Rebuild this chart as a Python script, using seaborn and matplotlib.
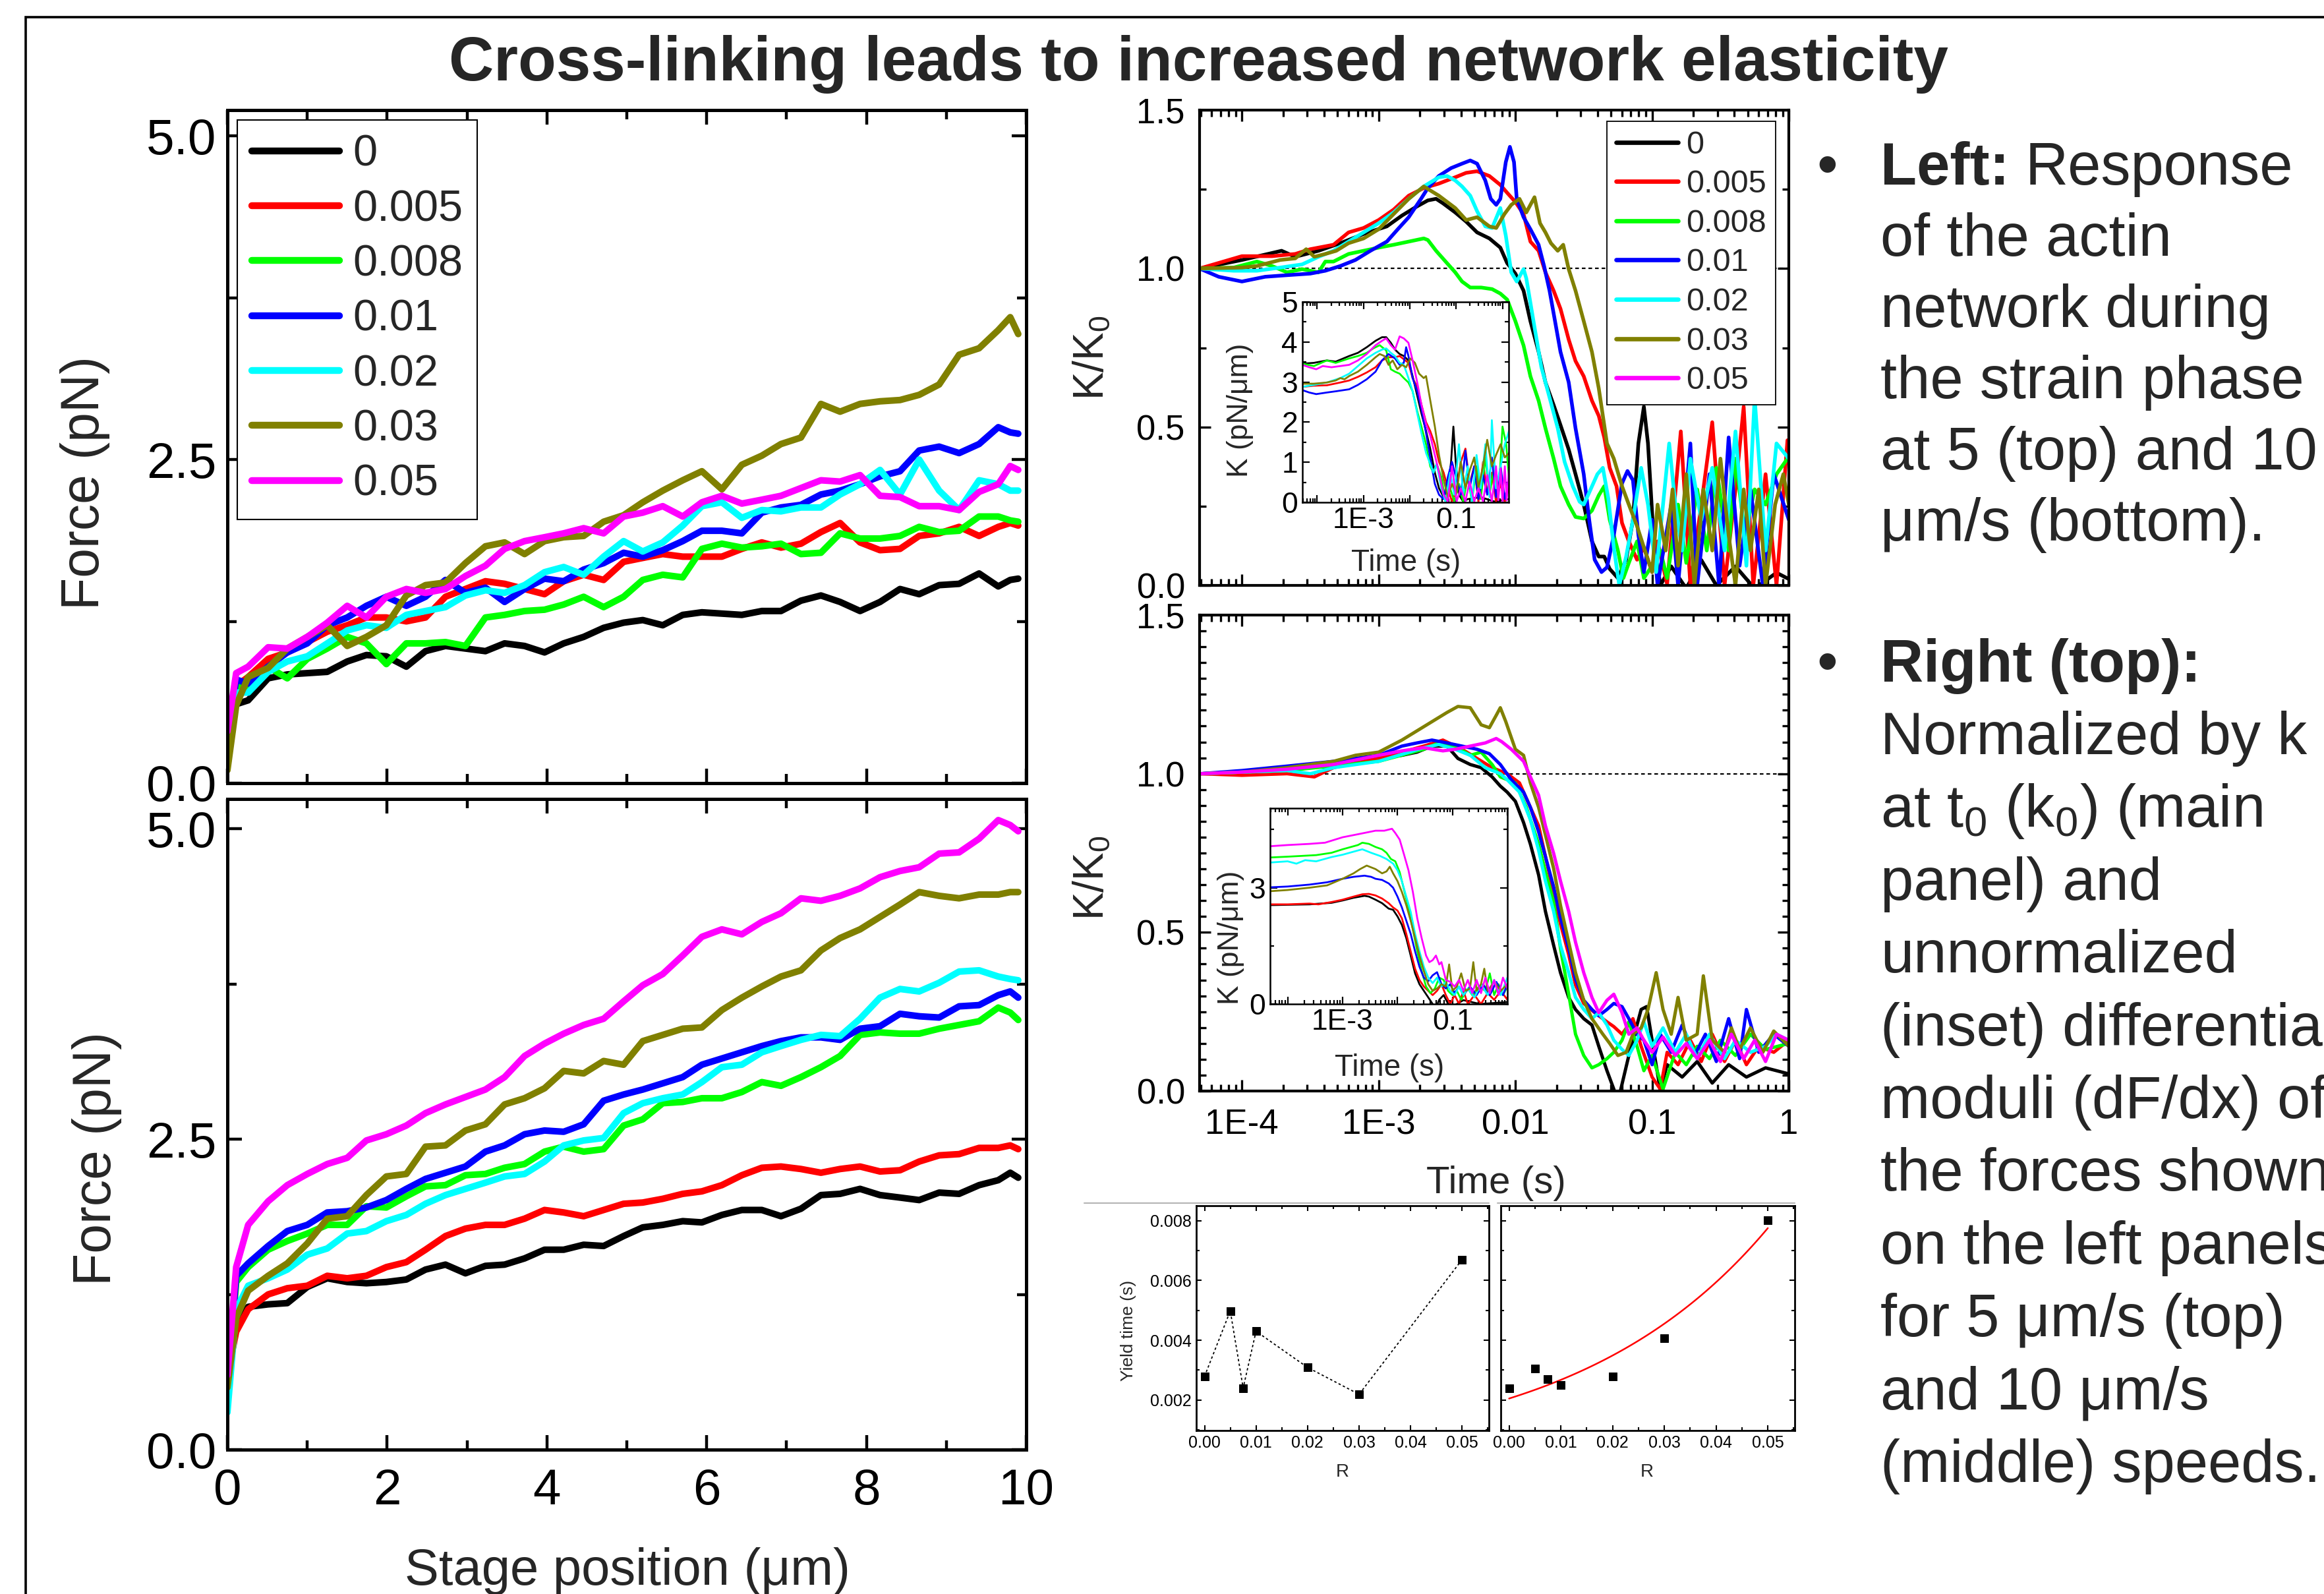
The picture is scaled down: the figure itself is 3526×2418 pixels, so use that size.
import numpy as np
import pandas as pd
import matplotlib
matplotlib.use("Agg")
import matplotlib.pyplot as plt
from matplotlib import font_manager
from matplotlib.lines import Line2D
from matplotlib.patches import Rectangle
from matplotlib.ticker import (FixedLocator, FuncFormatter, MultipleLocator,
                               LogLocator, NullFormatter)
import seaborn as sns

# ------------------------------------------------------------------ data
R_LEVELS = ["0", "0.005", "0.008", "0.01", "0.02", "0.03", "0.05"]
COLORS = ["#000000", "#ff0000", "#00ff00", "#0000ff", "#00ffff", "#808000", "#ff00ff"]

# stage position (um) shared by all force traces
STAGE_POS = [0.0, 0.11, 0.26, 0.51, 0.75, 1.0, 1.25, 1.50, 1.74, 1.99, 2.24, 2.48,
             2.73, 2.98, 3.23, 3.47, 3.72, 3.97, 4.21, 4.46, 4.71, 4.96, 5.20, 5.45,
             5.70, 5.94, 6.19, 6.44, 6.69, 6.93, 7.18, 7.43, 7.67, 7.92, 8.17, 8.42,
             8.66, 8.91, 9.16, 9.41, 9.65, 9.80, 9.90]

# force (pN) at 5 um/s
F5_R0 = [0.45, 0.61, 0.64, 0.81, 0.84, 0.85, 0.86, 0.94, 0.99, 0.98, 0.90, 1.02, 1.06, 1.04, 1.02,
         1.08, 1.06, 1.01, 1.08, 1.13, 1.20, 1.24, 1.26, 1.22, 1.30, 1.32, 1.31, 1.30, 1.33, 1.33,
         1.41, 1.45, 1.40, 1.33, 1.40, 1.50, 1.46, 1.53, 1.54, 1.62, 1.52, 1.57, 1.58]
F5_R005 = [0.4, 0.75, 0.82, 0.96, 1.01, 1.09, 1.17, 1.22, 1.28, 1.28, 1.25, 1.28, 1.44, 1.50, 1.56,
           1.54, 1.50, 1.46, 1.56, 1.61, 1.57, 1.71, 1.74, 1.77, 1.75, 1.75, 1.75, 1.81, 1.86, 1.82,
           1.85, 1.94, 2.01, 1.86, 1.80, 1.81, 1.91, 1.93, 1.98, 1.91, 1.98, 2.01, 1.99]
F5_R008 = [0.3, 0.75, 0.74, 0.90, 0.81, 0.96, 1.04, 1.13, 1.08, 0.92, 1.08, 1.08, 1.09, 1.06, 1.28,
           1.30, 1.33, 1.34, 1.38, 1.44, 1.36, 1.44, 1.57, 1.61, 1.59, 1.81, 1.85, 1.82, 1.83, 1.85,
           1.77, 1.78, 1.93, 1.89, 1.89, 1.91, 1.98, 1.94, 1.95, 2.06, 2.06, 2.03, 2.02]
F5_R01 = [0.35, 0.8, 0.77, 0.90, 1.01, 1.08, 1.22, 1.28, 1.37, 1.44, 1.37, 1.44, 1.57, 1.47, 1.51,
          1.40, 1.50, 1.58, 1.56, 1.65, 1.70, 1.78, 1.75, 1.80, 1.87, 1.95, 1.95, 1.93, 2.09, 2.13,
          2.15, 2.23, 2.26, 2.31, 2.37, 2.41, 2.57, 2.60, 2.55, 2.62, 2.75, 2.71, 2.70]
F5_R02 = [0.3, 0.7, 0.70, 0.86, 0.94, 0.98, 1.08, 1.18, 1.22, 1.20, 1.30, 1.33, 1.36, 1.45, 1.49,
          1.47, 1.53, 1.63, 1.67, 1.61, 1.75, 1.87, 1.79, 1.86, 1.99, 2.14, 2.17, 2.05, 2.11, 2.10,
          2.13, 2.13, 2.23, 2.31, 2.42, 2.23, 2.50, 2.26, 2.11, 2.34, 2.31, 2.26, 2.26]
F5_R03 = [0.1, 0.6, 0.82, 0.89, 1.04, 1.13, 1.22, 1.06, 1.13, 1.22, 1.45, 1.53, 1.55, 1.70, 1.83,
          1.86, 1.77, 1.87, 1.90, 1.91, 2.02, 2.07, 2.17, 2.26, 2.34, 2.41, 2.27, 2.46, 2.53, 2.62,
          2.67, 2.93, 2.87, 2.93, 2.95, 2.96, 3.00, 3.08, 3.31, 3.36, 3.50, 3.60, 3.47]
F5_R05 = [0.4, 0.85, 0.90, 1.05, 1.04, 1.13, 1.24, 1.37, 1.28, 1.44, 1.50, 1.47, 1.50, 1.60, 1.68,
          1.81, 1.87, 1.90, 1.93, 1.97, 1.93, 2.06, 2.09, 2.14, 2.06, 2.17, 2.22, 2.16, 2.19, 2.22,
          2.28, 2.34, 2.33, 2.38, 2.22, 2.21, 2.14, 2.14, 2.11, 2.25, 2.31, 2.45, 2.42]

# force (pN) at 10 um/s
F10_R0 = [0.55, 1.0, 1.15, 1.17, 1.18, 1.31, 1.38, 1.35, 1.34, 1.35, 1.37, 1.45, 1.49, 1.42, 1.48,
          1.49, 1.54, 1.61, 1.61, 1.65, 1.64, 1.72, 1.79, 1.81, 1.84, 1.83, 1.89, 1.93, 1.93, 1.88,
          1.94, 2.05, 2.06, 2.10, 2.05, 2.03, 2.01, 2.07, 2.06, 2.13, 2.17, 2.23, 2.19]
F10_R005 = [0.6, 0.95, 1.13, 1.25, 1.30, 1.32, 1.40, 1.38, 1.40, 1.47, 1.51, 1.61, 1.72, 1.78, 1.81,
            1.81, 1.86, 1.93, 1.91, 1.88, 1.93, 1.98, 1.99, 2.02, 2.06, 2.08, 2.13, 2.21, 2.27, 2.28,
            2.26, 2.23, 2.26, 2.28, 2.24, 2.25, 2.32, 2.37, 2.38, 2.43, 2.43, 2.45, 2.42]
F10_R008 = [0.45, 1.35, 1.47, 1.61, 1.68, 1.74, 1.81, 1.81, 1.96, 1.95, 2.04, 2.12, 2.13, 2.21, 2.22,
            2.27, 2.30, 2.40, 2.44, 2.40, 2.42, 2.61, 2.66, 2.79, 2.80, 2.83, 2.83, 2.88, 2.96, 2.93,
            3.00, 3.08, 3.17, 3.34, 3.36, 3.35, 3.35, 3.39, 3.42, 3.45, 3.56, 3.52, 3.46]
F10_R01 = [0.5, 1.40, 1.50, 1.64, 1.76, 1.81, 1.91, 1.92, 1.95, 2.01, 2.10, 2.18, 2.23, 2.28, 2.40,
           2.45, 2.54, 2.57, 2.56, 2.62, 2.81, 2.86, 2.90, 2.95, 3.00, 3.10, 3.15, 3.20, 3.25, 3.29,
           3.32, 3.32, 3.30, 3.39, 3.41, 3.51, 3.49, 3.48, 3.57, 3.58, 3.66, 3.69, 3.64]
F10_R02 = [0.3, 1.13, 1.32, 1.38, 1.45, 1.57, 1.62, 1.74, 1.76, 1.84, 1.89, 1.98, 2.05, 2.10, 2.15,
           2.20, 2.22, 2.32, 2.45, 2.49, 2.51, 2.71, 2.79, 2.83, 2.86, 2.96, 3.08, 3.10, 3.20, 3.25,
           3.30, 3.34, 3.33, 3.47, 3.64, 3.71, 3.69, 3.76, 3.85, 3.86, 3.81, 3.79, 3.78]
F10_R03 = [0.5, 1.06, 1.28, 1.40, 1.50, 1.66, 1.86, 1.88, 2.05, 2.20, 2.22, 2.44, 2.45, 2.57, 2.62,
           2.78, 2.83, 2.91, 3.05, 3.03, 3.13, 3.10, 3.29, 3.34, 3.39, 3.40, 3.54, 3.64, 3.73, 3.81,
           3.86, 4.02, 4.12, 4.19, 4.29, 4.39, 4.49, 4.46, 4.44, 4.47, 4.47, 4.49, 4.49]
F10_R05 = [0.6, 1.47, 1.81, 2.00, 2.13, 2.22, 2.30, 2.35, 2.49, 2.54, 2.61, 2.71, 2.78, 2.84, 2.90,
           3.00, 3.17, 3.27, 3.35, 3.42, 3.47, 3.61, 3.74, 3.83, 3.98, 4.13, 4.19, 4.15, 4.25, 4.32,
           4.44, 4.42, 4.46, 4.52, 4.61, 4.66, 4.69, 4.80, 4.81, 4.92, 5.07, 5.03, 4.98]

# normalised modulus K/K0 at 5 um/s: (log10 time [s], K/K0)
K5_R0 = [(-4.31, 1.0), (-4.0, 1.027), (-3.71, 1.056), (-3.61, 1.037), (-3.44, 1.056), (-3.28, 1.080),
         (-3.11, 1.109), (-2.94, 1.133), (-2.83, 1.167), (-2.72, 1.196), (-2.64, 1.215), (-2.58, 1.220),
         (-2.53, 1.206), (-2.44, 1.177), (-2.36, 1.148), (-2.28, 1.114), (-2.19, 1.095), (-2.11, 1.066),
         (-2.06, 1.017), (-2.0, 0.984), (-1.94, 0.930), (-1.89, 0.834), (-1.83, 0.737), (-1.78, 0.641),
         (-1.72, 0.569), (-1.67, 0.506), (-1.61, 0.429), (-1.56, 0.351), (-1.5, 0.255), (-1.44, 0.139),
         (-1.39, 0.091), (-1.35, 0.091), (-1.31, 0.052), (-1.25, 0.023), (-1.19, 0.081), (-1.14, 0.207),
         (-1.10, 0.448), (-1.06, 0.564), (-1.03, 0.448), (-0.99, 0.158), (-0.94, 0.0), (-0.86, 0.06),
         (-0.75, -0.01), (-0.64, 0.08), (-0.53, 0.0), (-0.39, 0.06), (-0.25, -0.01), (-0.09, 0.04),
         (0.0, 0.02)]
K5_R005 = [(-4.31, 1.0), (-4.0, 1.039), (-3.78, 1.039), (-3.61, 1.046), (-3.5, 1.061), (-3.33, 1.075),
           (-3.22, 1.114), (-3.11, 1.128), (-3.0, 1.153), (-2.89, 1.186), (-2.78, 1.230), (-2.67, 1.254),
           (-2.56, 1.268), (-2.44, 1.288), (-2.36, 1.302), (-2.28, 1.307), (-2.19, 1.292), (-2.11, 1.264),
           (-2.06, 1.239), (-2.0, 1.210), (-1.94, 1.172), (-1.89, 1.085), (-1.83, 1.056), (-1.78, 0.988),
           (-1.72, 0.930), (-1.67, 0.873), (-1.61, 0.776), (-1.56, 0.708), (-1.5, 0.660), (-1.44, 0.583),
           (-1.39, 0.535), (-1.35, 0.467), (-1.31, 0.371), (-1.26, 0.313), (-1.22, 0.197), (-1.17, 0.139),
           (-1.11, 0.081), (-1.06, 0.120), (-1.0, 0.042), (-0.96, 0.139), (-0.89, 0.004), (-0.79, 0.486),
           (-0.72, 0.0), (-0.64, 0.255), (-0.56, 0.515), (-0.47, 0.0), (-0.39, 0.303), (-0.33, 0.564),
           (-0.26, 0.0), (-0.17, 0.351), (-0.09, 0.0), (-0.01, 0.458)]
K5_R008 = [(-4.31, 1.0), (-4.06, 1.003), (-3.89, 1.022), (-3.78, 1.008), (-3.67, 0.988), (-3.56, 0.998),
           (-3.44, 0.988), (-3.39, 1.022), (-3.33, 1.022), (-3.22, 1.046), (-3.11, 1.056), (-3.0, 1.066),
           (-2.89, 1.075), (-2.78, 1.085), (-2.67, 1.095), (-2.64, 1.090), (-2.58, 1.056), (-2.5, 1.017),
           (-2.44, 0.988), (-2.39, 0.959), (-2.33, 0.940), (-2.25, 0.940), (-2.17, 0.935), (-2.11, 0.921),
           (-2.06, 0.902), (-2.0, 0.834), (-1.94, 0.757), (-1.89, 0.660), (-1.83, 0.583), (-1.78, 0.496),
           (-1.72, 0.400), (-1.67, 0.313), (-1.61, 0.255), (-1.56, 0.216), (-1.5, 0.211), (-1.44, 0.236),
           (-1.39, 0.284), (-1.35, 0.313), (-1.31, 0.207), (-1.25, 0.110), (-1.21, 0.023), (-1.17, 0.071),
           (-1.11, 0.139), (-1.06, 0.023), (-1.0, 0.062), (-0.94, 0.110), (-0.89, 0.023), (-0.81, 0.255),
           (-0.75, 0.071), (-0.67, 0.303), (-0.60, 0.110), (-0.53, 0.371), (-0.44, 0.110), (-0.39, 0.400),
           (-0.32, 0.158), (-0.25, 0.303), (-0.17, 0.255), (-0.09, 0.351), (-0.01, 0.400)]
K5_R01 = [(-4.31, 1.0), (-4.17, 0.974), (-4.0, 0.959), (-3.83, 0.974), (-3.67, 0.979), (-3.5, 0.984),
          (-3.39, 0.993), (-3.28, 1.008), (-3.17, 1.027), (-3.06, 1.056), (-2.94, 1.085), (-2.86, 1.124),
          (-2.78, 1.162), (-2.69, 1.220), (-2.64, 1.254), (-2.56, 1.292), (-2.47, 1.317), (-2.39, 1.331),
          (-2.33, 1.341), (-2.28, 1.331), (-2.22, 1.278), (-2.18, 1.220), (-2.14, 1.201), (-2.11, 1.220),
          (-2.07, 1.336), (-2.04, 1.384), (-2.01, 1.336), (-1.99, 1.220), (-1.94, 1.162), (-1.89, 1.124),
          (-1.83, 1.075), (-1.79, 1.008), (-1.75, 0.930), (-1.71, 0.834), (-1.67, 0.737), (-1.61, 0.641),
          (-1.56, 0.496), (-1.5, 0.351), (-1.46, 0.207), (-1.42, 0.081), (-1.37, 0.042), (-1.33, 0.057),
          (-1.28, 0.158), (-1.22, 0.322), (-1.18, 0.361), (-1.14, 0.332), (-1.10, 0.158), (-1.06, 0.042),
          (-1.0, 0.207), (-0.96, 0.0), (-0.86, 0.255), (-0.81, 0.0), (-0.72, 0.448), (-0.67, 0.0),
          (-0.58, 0.351), (-0.51, 0.0), (-0.44, 0.467), (-0.36, 0.062), (-0.28, 0.303), (-0.19, 0.0),
          (-0.11, 0.351), (0.0, 0.207)]
K5_R02 = [(-4.31, 1.0), (-4.06, 0.993), (-3.89, 0.993), (-3.72, 1.003), (-3.56, 1.013), (-3.44, 1.037),
          (-3.33, 1.056), (-3.22, 1.085), (-3.11, 1.114), (-3.0, 1.143), (-2.89, 1.177), (-2.78, 1.220),
          (-2.67, 1.259), (-2.56, 1.288), (-2.5, 1.292), (-2.44, 1.278), (-2.39, 1.259), (-2.33, 1.230),
          (-2.28, 1.181), (-2.22, 1.133), (-2.17, 1.128), (-2.11, 1.191), (-2.07, 1.104), (-2.03, 0.988),
          (-1.99, 0.959), (-1.94, 0.998), (-1.92, 0.969), (-1.86, 0.815), (-1.81, 0.689), (-1.75, 0.593),
          (-1.69, 0.496), (-1.64, 0.390), (-1.58, 0.313), (-1.53, 0.264), (-1.5, 0.255), (-1.46, 0.293),
          (-1.40, 0.351), (-1.36, 0.371), (-1.32, 0.274), (-1.28, 0.120), (-1.24, 0.0), (-1.19, 0.091),
          (-1.14, 0.207), (-1.08, 0.371), (-1.03, 0.255), (-0.97, 0.042), (-0.92, 0.255), (-0.875, 0.448),
          (-0.83, 0.255), (-0.78, 0.110), (-0.72, 0.400), (-0.64, 0.207), (-0.56, 0.371), (-0.47, 0.110),
          (-0.39, 0.486), (-0.31, 0.062), (-0.25, 0.593), (-0.17, 0.110), (-0.09, 0.448), (0.0, 0.400)]
K5_R03 = [(-4.31, 1.0), (-4.0, 1.003), (-3.89, 1.008), (-3.72, 1.027), (-3.61, 1.032), (-3.53, 1.061),
          (-3.47, 1.037), (-3.39, 1.046), (-3.31, 1.056), (-3.22, 1.080), (-3.11, 1.095), (-3.0, 1.124),
          (-2.89, 1.172), (-2.78, 1.220), (-2.67, 1.259), (-2.56, 1.230), (-2.44, 1.191), (-2.36, 1.153),
          (-2.28, 1.162), (-2.19, 1.133), (-2.14, 1.128), (-2.08, 1.172), (-2.03, 1.201), (-1.97, 1.220),
          (-1.92, 1.177), (-1.86, 1.225), (-1.82, 1.143), (-1.78, 1.114), (-1.74, 1.080), (-1.69, 1.056),
          (-1.65, 1.075), (-1.61, 0.998), (-1.56, 0.930), (-1.5, 0.834), (-1.44, 0.737), (-1.39, 0.622),
          (-1.33, 0.448), (-1.28, 0.400), (-1.22, 0.313), (-1.17, 0.255), (-1.11, 0.187), (-1.06, 0.120),
          (-1.0, 0.042), (-0.96, 0.255), (-0.90, 0.110), (-0.85, 0.303), (-0.81, 0.062), (-0.75, 0.351),
          (-0.69, 0.0), (-0.625, 0.303), (-0.56, 0.110), (-0.5, 0.400), (-0.44, 0.158), (-0.39, 0.0),
          (-0.33, 0.303), (-0.28, 0.110), (-0.22, 0.303), (-0.17, 0.0), (-0.10, 0.255), (-0.04, 0.351),
          (0.0, 0.255)]

# normalised modulus K/K0 at 10 um/s
K10_R0 = [(-4.31, 1.0), (-4.0, 1.005), (-3.67, 1.014), (-3.33, 1.024), (-3.0, 1.048), (-2.83, 1.058),
          (-2.72, 1.068), (-2.61, 1.087), (-2.5, 1.087), (-2.42, 1.048), (-2.33, 1.029), (-2.25, 1.019),
          (-2.17, 0.990), (-2.11, 0.961), (-2.06, 0.942), (-2.0, 0.913), (-1.94, 0.846), (-1.89, 0.778),
          (-1.83, 0.681), (-1.78, 0.566), (-1.72, 0.459), (-1.67, 0.373), (-1.61, 0.295), (-1.56, 0.257),
          (-1.5, 0.228), (-1.44, 0.208), (-1.39, 0.141), (-1.33, 0.064), (-1.28, 0.006), (-1.25, -0.033),
          (-1.17, 0.112), (-1.08, 0.257), (-1.04, 0.266), (-1.0, 0.160), (-0.94, 0.002), (-0.89, 0.083),
          (-0.78, 0.044), (-0.67, 0.093), (-0.56, 0.025), (-0.44, 0.083), (-0.31, 0.044), (-0.17, 0.073),
          (0.0, 0.054)]
K10_R005 = [(-4.31, 1.0), (-4.0, 0.995), (-3.67, 1.0), (-3.47, 0.99), (-3.33, 1.019), (-3.0, 1.048),
            (-2.67, 1.087), (-2.53, 1.106), (-2.39, 1.077), (-2.28, 1.048), (-2.17, 1.019), (-2.06, 1.0),
            (-1.97, 0.971), (-1.89, 0.894), (-1.83, 0.836), (-1.78, 0.739), (-1.72, 0.623), (-1.67, 0.527),
            (-1.61, 0.430), (-1.56, 0.334), (-1.5, 0.276), (-1.42, 0.247), (-1.33, 0.218), (-1.28, 0.203),
            (-1.22, 0.179), (-1.14, 0.228), (-1.08, 0.141), (-1.0, 0.044), (-0.94, 0.006), (-0.89, 0.122),
            (-0.81, 0.083), (-0.72, 0.160), (-0.64, 0.093), (-0.56, 0.179), (-0.47, 0.093), (-0.39, 0.160),
            (-0.31, 0.083), (-0.22, 0.141), (-0.11, 0.122), (0.0, 0.160)]
K10_R008 = [(-4.31, 1.0), (-3.67, 1.01), (-3.0, 1.039), (-2.67, 1.077), (-2.56, 1.097), (-2.44, 1.087),
            (-2.33, 1.058), (-2.25, 1.068), (-2.17, 1.029), (-2.11, 0.990), (-2.0, 0.971), (-1.92, 0.894),
            (-1.83, 0.778), (-1.78, 0.691), (-1.72, 0.595), (-1.67, 0.450), (-1.61, 0.305), (-1.56, 0.179),
            (-1.5, 0.112), (-1.44, 0.073), (-1.39, 0.083), (-1.33, 0.102), (-1.28, 0.122), (-1.22, 0.160),
            (-1.17, 0.218), (-1.11, 0.141), (-1.06, 0.064), (-1.0, 0.112), (-0.92, 0.006), (-0.83, 0.122),
            (-0.75, 0.083), (-0.67, 0.141), (-0.58, 0.102), (-0.5, 0.160), (-0.39, 0.112), (-0.28, 0.179),
            (-0.17, 0.131), (0.0, 0.150)]
K10_R01 = [(-4.31, 1.0), (-4.0, 1.01), (-3.67, 1.024), (-3.33, 1.039), (-3.0, 1.058), (-2.83, 1.087),
           (-2.72, 1.097), (-2.61, 1.106), (-2.5, 1.097), (-2.39, 1.087), (-2.28, 1.077), (-2.19, 1.063),
           (-2.11, 1.029), (-2.03, 0.981), (-1.94, 0.942), (-1.89, 0.894), (-1.83, 0.817), (-1.78, 0.739),
           (-1.72, 0.643), (-1.67, 0.546), (-1.61, 0.450), (-1.56, 0.353), (-1.5, 0.286), (-1.44, 0.257),
           (-1.39, 0.237), (-1.33, 0.257), (-1.28, 0.276), (-1.22, 0.266), (-1.17, 0.228), (-1.11, 0.179),
           (-1.06, 0.160), (-1.0, 0.083), (-0.94, 0.179), (-0.86, 0.122), (-0.78, 0.208), (-0.69, 0.112),
           (-0.61, 0.179), (-0.53, 0.093), (-0.44, 0.228), (-0.36, 0.102), (-0.31, 0.257), (-0.22, 0.122),
           (-0.11, 0.179), (0.0, 0.141)]
K10_R02 = [(-4.31, 1.0), (-4.0, 1.005), (-3.67, 1.01), (-3.5, 1.0), (-3.33, 1.019), (-3.0, 1.039),
           (-2.67, 1.082), (-2.56, 1.092), (-2.44, 1.077), (-2.33, 1.058), (-2.22, 1.019), (-2.11, 1.0),
           (-2.06, 0.981), (-1.97, 0.942), (-1.89, 0.855), (-1.83, 0.759), (-1.78, 0.662), (-1.72, 0.566),
           (-1.67, 0.459), (-1.61, 0.373), (-1.56, 0.295), (-1.5, 0.257), (-1.44, 0.228), (-1.39, 0.247),
           (-1.33, 0.208), (-1.28, 0.160), (-1.22, 0.131), (-1.17, 0.112), (-1.11, 0.160), (-1.06, 0.218),
           (-1.0, 0.141), (-0.92, 0.199), (-0.83, 0.122), (-0.75, 0.179), (-0.67, 0.102), (-0.58, 0.179),
           (-0.47, 0.102), (-0.39, 0.160), (-0.28, 0.122), (-0.17, 0.141), (-0.09, 0.179), (0.0, 0.160)]
K10_R03 = [(-4.31, 1.0), (-4.0, 1.005), (-3.67, 1.019), (-3.33, 1.039), (-3.17, 1.058), (-3.0, 1.068),
           (-2.83, 1.106), (-2.72, 1.135), (-2.61, 1.164), (-2.5, 1.193), (-2.42, 1.212), (-2.33, 1.208),
           (-2.25, 1.154), (-2.19, 1.145), (-2.14, 1.184), (-2.11, 1.208), (-2.07, 1.164), (-2.0, 1.077),
           (-1.94, 1.058), (-1.89, 0.971), (-1.83, 0.894), (-1.78, 0.807), (-1.72, 0.701), (-1.67, 0.585),
           (-1.61, 0.469), (-1.56, 0.373), (-1.5, 0.286), (-1.44, 0.228), (-1.36, 0.179), (-1.31, 0.150),
           (-1.25, 0.112), (-1.19, 0.122), (-1.14, 0.179), (-1.08, 0.199), (-1.03, 0.257), (-0.97, 0.373),
           (-0.92, 0.257), (-0.86, 0.179), (-0.81, 0.295), (-0.75, 0.160), (-0.67, 0.179), (-0.625, 0.363),
           (-0.56, 0.160), (-0.47, 0.122), (-0.42, 0.199), (-0.36, 0.131), (-0.28, 0.199), (-0.19, 0.122),
           (-0.11, 0.189), (0.0, 0.141)]
K10_R05 = [(-4.31, 1.0), (-4.0, 1.005), (-3.67, 1.014), (-3.33, 1.029), (-3.0, 1.058), (-2.83, 1.072),
           (-2.67, 1.082), (-2.53, 1.072), (-2.44, 1.077), (-2.33, 1.087), (-2.22, 1.097), (-2.14, 1.111),
           (-2.10, 1.101), (-2.03, 1.077), (-1.94, 1.039), (-1.89, 0.990), (-1.83, 0.932), (-1.78, 0.836),
           (-1.72, 0.749), (-1.67, 0.662), (-1.61, 0.566), (-1.56, 0.469), (-1.5, 0.373), (-1.44, 0.295),
           (-1.39, 0.247), (-1.33, 0.286), (-1.28, 0.305), (-1.22, 0.247), (-1.17, 0.179), (-1.11, 0.199),
           (-1.06, 0.160), (-1.0, 0.122), (-0.92, 0.170), (-0.83, 0.112), (-0.75, 0.150), (-0.67, 0.102),
           (-0.58, 0.160), (-0.5, 0.093), (-0.42, 0.179), (-0.33, 0.102), (-0.25, 0.160), (-0.17, 0.093),
           (-0.09, 0.179), (0.0, 0.160)]

# raw modulus K (pN/um) at 5 um/s (inset)
IN5_R0 = [(-4.32, 3.46), (-4.07, 3.48), (-3.79, 3.54), (-3.60, 3.51), (-3.31, 3.65), (-3.12, 3.73),
          (-2.93, 3.87), (-2.74, 4.03), (-2.60, 4.12), (-2.51, 4.12), (-2.41, 3.98), (-2.32, 3.81),
          (-2.22, 3.70), (-2.13, 3.65), (-2.03, 3.54), (-1.94, 3.15), (-1.84, 2.66), (-1.75, 2.22),
          (-1.65, 1.78), (-1.56, 1.34), (-1.46, 0.74), (-1.37, 0.35), (-1.27, 0.13), (-1.18, 0.35),
          (-1.11, 1.01), (-1.06, 1.89), (-1.01, 1.01), (-0.94, 0.19), (-0.85, 0.02), (-0.75, 0.08),
          (-0.47, 0.13), (-0.18, 0.02), (0.14, 0.08)]
IN5_R005 = [(-4.32, 2.88), (-4.07, 2.91), (-3.79, 2.92), (-3.50, 2.99), (-3.31, 3.04), (-3.12, 3.13),
            (-2.93, 3.24), (-2.74, 3.37), (-2.60, 3.54), (-2.46, 3.62), (-2.32, 3.62), (-2.22, 3.65),
            (-2.13, 3.57), (-2.03, 3.48), (-1.94, 3.10), (-1.84, 2.88), (-1.75, 2.44), (-1.65, 2.0),
            (-1.56, 1.78), (-1.46, 1.45), (-1.37, 1.01), (-1.27, 0.74), (-1.18, 0.35), (-1.09, 0.02),
            (-0.99, 0.35), (-0.90, 1.01), (-0.80, 1.34), (-0.71, 0.46), (-0.61, 0.90), (-0.52, 0.02),
            (-0.42, 1.01), (-0.33, 0.24), (-0.23, 0.74), (-0.14, 0.02), (-0.04, 0.46), (0.05, 0.02),
            (0.14, 0.35)]
IN5_R008 = [(-4.32, 3.46), (-4.07, 3.40), (-3.79, 3.54), (-3.60, 3.48), (-3.31, 3.59), (-3.12, 3.65),
            (-2.93, 3.73), (-2.79, 3.84), (-2.65, 3.92), (-2.51, 3.79), (-2.41, 3.32), (-2.32, 3.26),
            (-2.22, 3.21), (-2.13, 3.10), (-2.03, 2.99), (-1.94, 2.77), (-1.84, 2.27), (-1.75, 1.89),
            (-1.65, 1.45), (-1.56, 0.90), (-1.49, 0.74), (-1.42, 0.96), (-1.32, 0.63), (-1.23, 0.02),
            (-1.13, 0.35), (-1.04, 0.02), (-0.94, 0.46), (-0.85, 0.02), (-0.75, 0.63), (-0.66, 0.02),
            (-0.56, 0.90), (-0.47, 0.08), (-0.37, 1.12), (-0.28, 0.19), (-0.18, 0.90), (-0.09, 0.08),
            (0.0, 1.89), (0.08, 1.45), (0.14, 0.57)]
IN5_R01 = [(-4.32, 2.80), (-4.17, 2.74), (-4.02, 2.70), (-3.79, 2.74), (-3.60, 2.77), (-3.31, 2.82),
           (-3.12, 2.93), (-2.93, 3.07), (-2.74, 3.26), (-2.60, 3.54), (-2.46, 3.70), (-2.32, 3.59),
           (-2.22, 3.43), (-2.13, 3.48), (-2.08, 3.87), (-2.03, 3.65), (-1.94, 3.10), (-1.84, 2.77),
           (-1.75, 2.33), (-1.65, 1.73), (-1.56, 1.12), (-1.46, 0.46), (-1.37, 0.19), (-1.27, 0.08),
           (-1.18, 0.63), (-1.09, 1.01), (-0.99, 0.57), (-0.90, 0.19), (-0.80, 1.29), (-0.71, 0.35),
           (-0.61, 0.90), (-0.52, 0.08), (-0.42, 0.68), (-0.33, 0.19), (-0.23, 1.12), (-0.14, 0.13),
           (-0.04, 0.90), (0.05, 0.08), (0.14, 0.63)]
IN5_R02 = [(-4.32, 2.88), (-4.07, 2.93), (-3.79, 2.99), (-3.50, 3.10), (-3.31, 3.21), (-3.12, 3.40),
           (-2.93, 3.59), (-2.74, 3.73), (-2.60, 3.81), (-2.51, 3.84), (-2.41, 3.73), (-2.32, 3.65),
           (-2.22, 3.48), (-2.13, 3.43), (-2.03, 3.10), (-1.94, 2.77), (-1.84, 2.22), (-1.75, 1.73),
           (-1.65, 1.23), (-1.56, 0.96), (-1.49, 0.74), (-1.42, 0.96), (-1.32, 0.35), (-1.23, 0.02),
           (-1.13, 0.74), (-1.04, 0.19), (-0.94, 1.45), (-0.85, 0.19), (-0.75, 0.90), (-0.66, 0.02),
           (-0.56, 1.18), (-0.47, 0.35), (-0.37, 1.45), (-0.28, 0.13), (-0.23, 2.05), (-0.14, 0.35),
           (-0.04, 0.90), (0.05, 1.45), (0.14, 1.78)]
IN5_R03 = [(-4.32, 2.96), (-4.07, 2.96), (-3.79, 2.99), (-3.60, 3.04), (-3.50, 3.10), (-3.41, 3.07),
           (-3.31, 3.15), (-3.12, 3.26), (-2.93, 3.43), (-2.74, 3.62), (-2.65, 3.70), (-2.55, 3.65),
           (-2.46, 3.43), (-2.37, 3.54), (-2.27, 3.32), (-2.17, 3.43), (-2.08, 3.37), (-1.99, 3.59),
           (-1.89, 3.48), (-1.80, 3.21), (-1.70, 3.10), (-1.65, 3.15), (-1.56, 2.55), (-1.46, 1.89),
           (-1.37, 1.18), (-1.27, 0.57), (-1.18, 0.13), (-1.09, 0.46), (-0.99, 0.24), (-0.90, 1.01),
           (-0.80, 0.35), (-0.71, 0.79), (-0.61, 1.12), (-0.52, 0.35), (-0.42, 0.90), (-0.33, 1.56),
           (-0.23, 0.90), (-0.14, 1.18), (-0.04, 1.45), (0.05, 1.12), (0.14, 1.23)]
IN5_R05 = [(-4.32, 3.43), (-4.17, 3.37), (-4.02, 3.32), (-3.88, 3.40), (-3.69, 3.37), (-3.50, 3.40),
           (-3.31, 3.43), (-3.12, 3.54), (-2.93, 3.70), (-2.74, 3.92), (-2.60, 4.03), (-2.51, 4.09),
           (-2.41, 3.92), (-2.32, 3.81), (-2.22, 4.14), (-2.13, 4.09), (-2.03, 3.98), (-1.94, 3.54),
           (-1.84, 2.99), (-1.75, 2.44), (-1.65, 1.95), (-1.56, 1.67), (-1.46, 1.18), (-1.37, 0.74),
           (-1.27, 0.19), (-1.18, 0.02), (-1.09, 0.90), (-0.99, 0.02), (-0.90, 0.35), (-0.80, 0.02),
           (-0.71, 0.52), (-0.61, 0.02), (-0.52, 0.35), (-0.42, 0.02), (-0.33, 0.68), (-0.23, 0.02),
           (-0.14, 0.90), (-0.09, 0.05), (-0.04, 0.85), (0.0, 0.02), (0.05, 0.90), (0.09, 0.05),
           (0.14, 0.85)]

# raw modulus K (pN/um) at 10 um/s (inset)
IN10_R0 = [(-4.31, 2.55), (-3.6, 2.57), (-3.2, 2.61), (-3.0, 2.67), (-2.8, 2.74), (-2.6, 2.79),
           (-2.52, 2.77), (-2.4, 2.69), (-2.28, 2.60), (-2.16, 2.46), (-2.08, 2.43), (-2.0, 2.26),
           (-1.92, 2.04), (-1.84, 1.70), (-1.76, 1.25), (-1.68, 0.79), (-1.6, 0.51), (-1.52, 0.34),
           (-1.44, 0.17), (-1.36, 0.0), (-1.3, -0.1), (-1.24, 0.11), (-1.16, 0.23), (-1.04, -0.1),
           (-0.8, 0.1), (-0.5, 0.0), (0.0, 0.05)]
IN10_R005 = [(-4.31, 2.57), (-4.0, 2.57), (-3.6, 2.59), (-3.44, 2.57), (-3.2, 2.63), (-3.0, 2.69),
             (-2.8, 2.77), (-2.64, 2.83), (-2.52, 2.84), (-2.4, 2.80), (-2.28, 2.72), (-2.16, 2.60),
             (-2.08, 2.49), (-2.0, 2.41), (-1.92, 2.21), (-1.84, 1.81), (-1.76, 1.36), (-1.68, 0.91),
             (-1.6, 0.62), (-1.52, 0.45), (-1.44, 0.34), (-1.36, 0.23), (-1.28, 0.34), (-1.2, 0.51),
             (-1.12, 0.23), (-1.04, 0.0), (-0.96, 0.23), (-0.88, 0.0), (-0.8, 0.34), (-0.72, 0.0),
             (-0.6, 0.23), (-0.48, 0.0), (-0.36, 0.28), (-0.24, 0.11), (-0.12, 0.34), (0.0, 0.11)]
IN10_R008 = [(-4.31, 3.78), (-4.0, 3.80), (-3.48, 3.84), (-3.2, 3.90), (-3.0, 3.99), (-2.72, 4.10),
             (-2.64, 4.16), (-2.52, 4.13), (-2.4, 4.05), (-2.28, 3.99), (-2.2, 3.90), (-2.12, 3.74),
             (-2.04, 3.68), (-1.96, 3.40), (-1.88, 2.94), (-1.8, 2.49), (-1.72, 1.92), (-1.64, 1.36),
             (-1.56, 0.85), (-1.48, 0.45), (-1.4, 0.28), (-1.32, 0.40), (-1.24, 0.68), (-1.16, 0.62),
             (-1.08, 0.34), (-1.0, 0.23), (-0.92, 0.34), (-0.84, 0.11), (-0.72, 0.40), (-0.64, 0.23),
             (-0.52, 0.45), (-0.4, 0.34), (-0.32, 0.79), (-0.24, 0.23), (-0.16, 0.51), (-0.08, 0.23),
             (0.0, 0.45)]
IN10_R01 = [(-4.31, 3.01), (-4.0, 3.03), (-3.6, 3.08), (-3.28, 3.14), (-3.0, 3.23), (-2.8, 3.28),
            (-2.6, 3.31), (-2.48, 3.28), (-2.4, 3.23), (-2.28, 3.20), (-2.16, 3.11), (-2.08, 3.0),
            (-2.0, 2.77), (-1.92, 2.49), (-1.84, 2.15), (-1.76, 1.81), (-1.68, 1.36), (-1.6, 0.96),
            (-1.52, 0.68), (-1.44, 0.59), (-1.36, 0.74), (-1.28, 0.82), (-1.2, 0.51), (-1.12, 0.40),
            (-1.04, 0.51), (-0.96, 0.28), (-0.88, 0.45), (-0.8, 0.23), (-0.68, 0.45), (-0.56, 0.23),
            (-0.44, 0.51), (-0.32, 0.23), (-0.2, 0.57), (-0.08, 0.23), (0.0, 0.51)]
IN10_R02 = [(-4.31, 3.65), (-4.0, 3.68), (-3.84, 3.62), (-3.68, 3.71), (-3.48, 3.68), (-3.2, 3.79),
            (-3.0, 3.85), (-2.72, 3.96), (-2.64, 3.99), (-2.48, 3.90), (-2.32, 3.82), (-2.2, 3.74),
            (-2.08, 3.62), (-2.0, 3.45), (-1.92, 3.17), (-1.84, 2.77), (-1.76, 2.38), (-1.68, 1.81),
            (-1.6, 1.36), (-1.52, 0.96), (-1.44, 0.68), (-1.36, 0.54), (-1.28, 0.68), (-1.2, 0.45),
            (-1.12, 0.57), (-1.04, 0.34), (-0.96, 0.23), (-0.88, 0.45), (-0.8, 0.23), (-0.72, 0.40),
            (-0.6, 0.17), (-0.48, 0.51), (-0.36, 0.23), (-0.24, 0.62), (-0.12, 0.23), (0.0, 0.68)]
IN10_R03 = [(-4.31, 2.91), (-4.0, 2.94), (-3.6, 3.0), (-3.28, 3.06), (-3.0, 3.23), (-2.8, 3.37),
            (-2.68, 3.48), (-2.56, 3.57), (-2.4, 3.48), (-2.28, 3.37), (-2.2, 3.42), (-2.14, 3.54),
            (-2.08, 3.37), (-2.0, 3.17), (-1.92, 2.89), (-1.84, 2.55), (-1.76, 2.15), (-1.68, 1.70),
            (-1.6, 1.25), (-1.52, 0.85), (-1.44, 0.51), (-1.36, 0.34), (-1.28, 0.40), (-1.2, 0.51),
            (-1.12, 0.45), (-1.06, 1.02), (-1.0, 0.34), (-0.92, 0.45), (-0.84, 0.79), (-0.76, 0.34),
            (-0.68, 0.40), (-0.62, 1.08), (-0.56, 0.34), (-0.48, 0.51), (-0.42, 0.91), (-0.36, 0.34),
            (-0.24, 0.57), (-0.12, 0.34), (0.0, 0.51)]
IN10_R05 = [(-4.31, 4.07), (-4.0, 4.10), (-3.6, 4.13), (-3.32, 4.16), (-3.0, 4.30), (-2.68, 4.39),
            (-2.4, 4.47), (-2.24, 4.47), (-2.1, 4.52), (-2.04, 4.41), (-1.96, 4.24), (-1.88, 3.85),
            (-1.8, 3.45), (-1.72, 2.89), (-1.64, 2.21), (-1.56, 1.70), (-1.48, 1.25), (-1.42, 1.08),
            (-1.36, 1.13), (-1.3, 1.25), (-1.24, 1.02), (-1.2, 1.08), (-1.12, 0.62), (-1.04, 0.57),
            (-0.96, 0.45), (-0.88, 0.62), (-0.8, 0.34), (-0.72, 0.62), (-0.64, 0.28), (-0.56, 0.62),
            (-0.48, 0.28), (-0.4, 0.68), (-0.32, 0.28), (-0.24, 0.62), (-0.16, 0.23), (-0.08, 0.68),
            (0.0, 0.40)]

# yield time vs cross-linker ratio R
YIELD_R = [0.0, 0.005, 0.0075, 0.01, 0.02, 0.03, 0.05]
YIELD_T_A = [0.00279, 0.00498, 0.00240, 0.00430, 0.00309, 0.00219, 0.00670]
YIELD_T_B = [0.00240, 0.00305, 0.00270, 0.00250, 0.00279, 0.00406, 0.00801]
FIT_A, FIT_B = 0.00205, 26.6          # exponential fit  t = A * exp(B * R)

TITLE = "Cross-linking leads to increased network elasticity"
NOTE_1 = ["of the actin", "network during", "the strain phase", "at 5 (top) and 10",
          "\u03bcm/s (bottom)."]
NOTE_2 = ["Normalized by k", "at t$_0$ (k$_0$) (main", "panel) and", "unnormalized",
          "(inset) differential", "moduli (dF/dx) of", "the forces shown", "on the left panels",
          "for 5 \u03bcm/s (top)", "and 10 \u03bcm/s", "(middle) speeds."]

# ------------------------------------------------------------------ style
sns.set_style("ticks")
plt.rcParams["font.family"] = ["Liberation Sans", "DejaVu Sans"]
plt.rcParams["mathtext.fontset"] = "custom"
plt.rcParams["mathtext.rm"] = "Liberation Sans"
plt.rcParams["mathtext.it"] = "Liberation Sans:italic"
plt.rcParams["mathtext.bf"] = "Liberation Sans:bold"
plt.rcParams["mathtext.default"] = "regular"
plt.rcParams["axes.edgecolor"] = "black"
plt.rcParams["xtick.color"] = "black"
plt.rcParams["ytick.color"] = "black"

_names = {f.name for f in font_manager.fontManager.ttflist}
NARROW = "Liberation Sans Narrow" if "Liberation Sans Narrow" in _names else "Liberation Sans"

PALETTE = dict(zip(R_LEVELS, COLORS))
W, H, DPI = 3526, 2418, 100
fig = plt.figure(figsize=(W / DPI, H / DPI), dpi=DPI, facecolor="white")


def px_rect(left, top, right, bottom):
    return [left / W, 1 - bottom / H, (right - left) / W, (bottom - top) / H]


def fx(x):
    return x / W


def fy(y):
    return 1 - y / H


def force_frame(series):
    rows = []
    for lab, vals in zip(R_LEVELS, series):
        rows += [(lab, p, v) for p, v in zip(STAGE_POS, vals)]
    return pd.DataFrame(rows, columns=["R", "pos", "F"])


def time_frame(labels, series):
    rows = []
    for lab, pairs in zip(labels, series):
        rows += [(lab, 10.0 ** lt, v) for lt, v in pairs]
    return pd.DataFrame(rows, columns=["R", "t", "K"])


def set_spines(ax, lw):
    for s in ax.spines.values():
        s.set_visible(True)
        s.set_linewidth(lw)
        s.set_color("black")


DECADE_TEXT = {-4: "1E-4", -3: "1E-3", -2: "0.01", -1: "0.1", 0: "1"}


def decade_formatter(shown):
    def fmt(v, pos):
        k = int(round(np.log10(v)))
        return DECADE_TEXT.get(k, "") if k in shown else ""
    return FuncFormatter(fmt)


# ------------------------------------------------------------------ force panels
ax_f5 = fig.add_axes(px_rect(345, 167, 1557, 1188))
ax_f10 = fig.add_axes(px_rect(345, 1212, 1557, 2199))

for ax, series, ytop, xlab in [
        (ax_f5, [F5_R0, F5_R005, F5_R008, F5_R01, F5_R02, F5_R03, F5_R05], 5.2, False),
        (ax_f10, [F10_R0, F10_R005, F10_R008, F10_R01, F10_R02, F10_R03, F10_R05], 5.24, True)]:
    sns.lineplot(data=force_frame(series), x="pos", y="F", hue="R", hue_order=R_LEVELS,
                 palette=PALETTE, estimator=None, sort=False, linewidth=7.2,
                 legend=False, ax=ax)
    for ln in ax.get_lines():
        ln.set_solid_joinstyle("round")
        ln.set_solid_capstyle("round")
    ax.set_xlim(0, 10)
    ax.set_ylim(0, ytop)
    ax.set_xlabel("")
    ax.set_ylabel("")
    ax.xaxis.set_major_locator(MultipleLocator(2))
    ax.xaxis.set_minor_locator(MultipleLocator(1))
    ax.yaxis.set_major_locator(FixedLocator([0, 2.5, 5.0]))
    ax.yaxis.set_minor_locator(FixedLocator([1.25, 3.75]))
    ax.yaxis.set_major_formatter(FuncFormatter(lambda v, p: f"{v:.1f}"))
    ax.tick_params(which="both", direction="in", top=True, right=True, width=3.2)
    ax.tick_params(which="major", length=16, labelsize=55, pad=12)
    ax.tick_params(which="minor", length=10)
    ax.tick_params(axis="x", which="major", pad=20)
    ax.tick_params(labelbottom=xlab)
    set_spines(ax, 3.6)

leg_handles = [Line2D([0], [0], color=c, lw=7.5, solid_capstyle="round") for c in COLORS]
leg = ax_f5.legend(leg_handles, R_LEVELS, loc="upper left",
                   bbox_to_anchor=(fx(360), fy(182)), bbox_transform=fig.transFigure,
                   frameon=True, fancybox=False, framealpha=1, edgecolor="black",
                   fontsize=48, handlelength=2.0, handletextpad=0.3, labelspacing=0.32,
                   borderpad=0.33, borderaxespad=0)
leg.get_frame().set_linewidth(1.5)

fig.text(fx(129), fy(733), "Force (pN)", rotation=90, ha="center", va="center", fontsize=58)
fig.text(fx(147), fy(1757), "Force (pN)", rotation=90, ha="center", va="center", fontsize=58)
fig.text(fx(952), fy(2404), "Stage position (\u03bcm)", ha="center", va="baseline", fontsize=56)

# ------------------------------------------------------------------ K/K0 panels
ax_k5 = fig.add_axes(px_rect(1820, 167, 2714, 888))
ax_k10 = fig.add_axes(px_rect(1820, 933, 2714, 1655))

k5_labels = R_LEVELS[:6]
k5_series = [K5_R0, K5_R005, K5_R008, K5_R01, K5_R02, K5_R03]
k10_series = [K10_R0, K10_R005, K10_R008, K10_R01, K10_R02, K10_R03, K10_R05]

for ax, labels, series, minor_step, show_x, lw in [
        (ax_k5, k5_labels, k5_series, 0.25, False, 4.0),
        (ax_k10, R_LEVELS, k10_series, 0.05, True, 3.6)]:
    ax.set_xscale("log")
    ax.axhline(1.0, color="black", lw=1.6, ls=(0, (2.5, 2.0)), zorder=1)
    sns.lineplot(data=time_frame(labels, series), x="t", y="K", hue="R", hue_order=labels,
                 palette=PALETTE, estimator=None, sort=False, linewidth=lw,
                 legend=False, ax=ax)
    ax.set_xlim(4.9e-5, 1.0)
    ax.set_ylim(0, 1.5)
    ax.set_xlabel("")
    ax.set_ylabel("")
    ax.xaxis.set_major_locator(LogLocator(base=10, numticks=20))
    ax.xaxis.set_minor_locator(LogLocator(base=10, subs=np.arange(2, 10), numticks=100))
    ax.xaxis.set_major_formatter(decade_formatter({-4, -3, -2, -1, 0}))
    ax.xaxis.set_minor_formatter(NullFormatter())
    ax.yaxis.set_major_locator(MultipleLocator(0.5))
    ax.yaxis.set_minor_locator(MultipleLocator(minor_step))
    ax.yaxis.set_major_formatter(FuncFormatter(lambda v, p: f"{v:.1f}"))
    ax.tick_params(which="both", direction="in", top=True, right=True, width=2.4)
    ax.tick_params(which="major", length=12, labelsize=38, pad=16)
    ax.tick_params(which="minor", length=7)
    ax.tick_params(axis="x", which="major", pad=19)
    ax.tick_params(labelbottom=show_x)
    set_spines(ax, 3.0)

k_handles = [Line2D([0], [0], color=c, lw=4.8) for c in COLORS]
leg_k = ax_k5.legend(k_handles, R_LEVELS, loc="upper left",
                     bbox_to_anchor=(fx(2438), fy(184)), bbox_transform=fig.transFigure,
                     frameon=True, fancybox=False, framealpha=1, edgecolor="black",
                     fontsize=35, handlelength=1.95, handletextpad=0.25, labelspacing=0.3,
                     borderpad=0.28, borderaxespad=0)
leg_k.get_frame().set_linewidth(1.3)
leg_k.set_zorder(6)

fig.text(fx(1657), fy(543), "K/K$_0$", rotation=90, ha="center", va="center", fontsize=46)
fig.text(fx(1657), fy(1332), "K/K$_0$", rotation=90, ha="center", va="center", fontsize=46)
fig.text(fx(2270), fy(1795), "Time (s)", ha="center", va="center", fontsize=42)

# ------------------------------------------------------------------ insets (raw K)
ax_i5 = fig.add_axes(px_rect(1976, 458, 2289, 762))
ax_i10 = fig.add_axes(px_rect(1927, 1226, 2287, 1523))

in5_series = [IN5_R0, IN5_R005, IN5_R008, IN5_R01, IN5_R02, IN5_R03, IN5_R05]
in10_series = [IN10_R0, IN10_R005, IN10_R008, IN10_R01, IN10_R02, IN10_R03, IN10_R05]

for ax, series, xmax, ytop, ymaj, ymin in [
        (ax_i5, in5_series, 1.36, 5.0, 1.0, 0.5),
        (ax_i10, in10_series, 1.0, 5.05, 3.0, 1.5)]:
    ax.set_facecolor("white")
    ax.set_xscale("log")
    sns.lineplot(data=time_frame(R_LEVELS, series), x="t", y="K", hue="R", hue_order=R_LEVELS,
                 palette=PALETTE, estimator=None, sort=False, linewidth=2.0,
                 legend=False, ax=ax)
    ax.set_xlim(4.8e-5, xmax)
    ax.set_ylim(0, ytop)
    ax.set_xlabel("")
    ax.set_ylabel("")
    ax.xaxis.set_major_locator(LogLocator(base=10, numticks=20))
    ax.xaxis.set_minor_locator(LogLocator(base=10, subs=np.arange(2, 10), numticks=100))
    ax.xaxis.set_major_formatter(decade_formatter({-3, -1}))
    ax.xaxis.set_minor_formatter(NullFormatter())
    ax.yaxis.set_major_locator(MultipleLocator(ymaj))
    ax.yaxis.set_minor_locator(MultipleLocator(ymin))
    ax.yaxis.set_major_formatter(FuncFormatter(lambda v, p: f"{v:.0f}"))
    ax.tick_params(which="both", direction="in", top=True, right=True, width=1.6)
    ax.tick_params(which="major", length=8, labelsize=32, pad=5)
    ax.tick_params(which="minor", length=4.5)
    set_spines(ax, 1.8)

fig.text(fx(1881), fy(622), "K (pN/\u03bcm)", rotation=90, ha="center", va="center", fontsize=32)
fig.text(fx(2133), fy(854), "Time (s)", ha="center", va="center", fontsize=33)
fig.text(fx(1867), fy(1422), "K (pN/\u03bcm)", rotation=90, ha="center", va="center", fontsize=32)
fig.text(fx(2108), fy(1620), "Time (s)", ha="center", va="center", fontsize=33)

# ------------------------------------------------------------------ yield-time panels
ax_ya = fig.add_axes(px_rect(1815, 1829, 2259, 2170))
ax_yb = fig.add_axes(px_rect(2277, 1829, 2723, 2170))

sns.lineplot(x=YIELD_R, y=YIELD_T_A, color="black", linewidth=1.3, linestyle=(0, (2, 2)),
             estimator=None, sort=False, ax=ax_ya)
sns.scatterplot(x=YIELD_R, y=YIELD_T_A, marker="s", s=80, color="black",
                edgecolor="black", ax=ax_ya, zorder=3)
sns.scatterplot(x=YIELD_R, y=YIELD_T_B, marker="s", s=80, color="black",
                edgecolor="black", ax=ax_yb, zorder=3)
r_fit = np.linspace(0.0, 0.05, 120)
sns.lineplot(x=r_fit, y=FIT_A * np.exp(FIT_B * r_fit), color="red", linewidth=1.8,
             estimator=None, sort=False, ax=ax_yb)

for ax, ylabels in [(ax_ya, True), (ax_yb, False)]:
    ax.set_xlim(-0.0016, 0.0552)
    ax.set_ylim(0.00098, 0.0085)
    ax.set_xlabel("")
    ax.set_ylabel("")
    ax.xaxis.set_major_locator(MultipleLocator(0.01))
    ax.xaxis.set_minor_locator(MultipleLocator(0.005))
    ax.yaxis.set_major_locator(MultipleLocator(0.002))
    ax.yaxis.set_minor_locator(MultipleLocator(0.001))
    ax.xaxis.set_major_formatter(FuncFormatter(lambda v, p: f"{v:.2f}"))
    ax.yaxis.set_major_formatter(FuncFormatter(lambda v, p: f"{v:.3f}"))
    ax.tick_params(which="both", direction="in", top=True, right=True, width=1.5)
    ax.tick_params(which="major", length=6, labelsize=18, pad=5)
    ax.tick_params(which="minor", length=3.5)
    ax.tick_params(labelleft=ylabels)
    for lab in ax.get_xticklabels() + ax.get_yticklabels():
        lab.set_fontfamily(NARROW)
    set_spines(ax, 2.0)

fig.text(fx(1712), fy(2018), "Yield time (s)", rotation=90, ha="center", va="center",
         fontsize=19)
fig.text(fx(2037), fy(2233), "R", ha="center", va="center", fontsize=20, family=NARROW)
fig.text(fx(2499), fy(2233), "R", ha="center", va="center", fontsize=20, family=NARROW)
for x0, x1 in [(1645, 2259), (2272, 2723)]:
    fig.add_artist(Line2D([fx(x0), fx(x1)], [fy(1825), fy(1825)], color="#b4b4b4", lw=1.5))

# ------------------------------------------------------------------ title, notes, frame
fig.text(fx(1818), fy(122), TITLE, ha="center", va="baseline", fontsize=68, fontweight="bold")

renderer = fig.canvas.get_renderer()
TXT = 65
X_BUL, X_TXT = 2772, 2853
fig.text(fx(X_BUL), fy(280), "\u2022", ha="center", va="baseline", fontsize=TXT)
head = fig.text(fx(X_TXT), fy(280), "Left:", ha="left", va="baseline", fontsize=TXT,
                fontweight="bold")
head_px = head.get_window_extent(renderer=renderer).x1
fig.text((head_px + 0.27 * TXT * DPI / 72) / W, fy(280), "Response", ha="left",
         va="baseline", fontsize=TXT)
for i, line in enumerate(NOTE_1):
    fig.text(fx(X_TXT), fy(388 + 108 * i), line, ha="left", va="baseline", fontsize=TXT)

fig.text(fx(X_BUL), fy(1034), "\u2022", ha="center", va="baseline", fontsize=TXT)
fig.text(fx(X_TXT), fy(1034), "Right (top):", ha="left", va="baseline", fontsize=TXT,
         fontweight="bold")
for i, line in enumerate(NOTE_2):
    fig.text(fx(X_TXT), fy(1144 + 110.4 * i), line, ha="left", va="baseline", fontsize=TXT)

fig.add_artist(Rectangle((fx(39), -0.05), 1.2, fy(26) + 0.05, transform=fig.transFigure,
                         fill=False, edgecolor="black", linewidth=2.6))

fig.savefig("out.png", dpi=DPI, facecolor="white")
